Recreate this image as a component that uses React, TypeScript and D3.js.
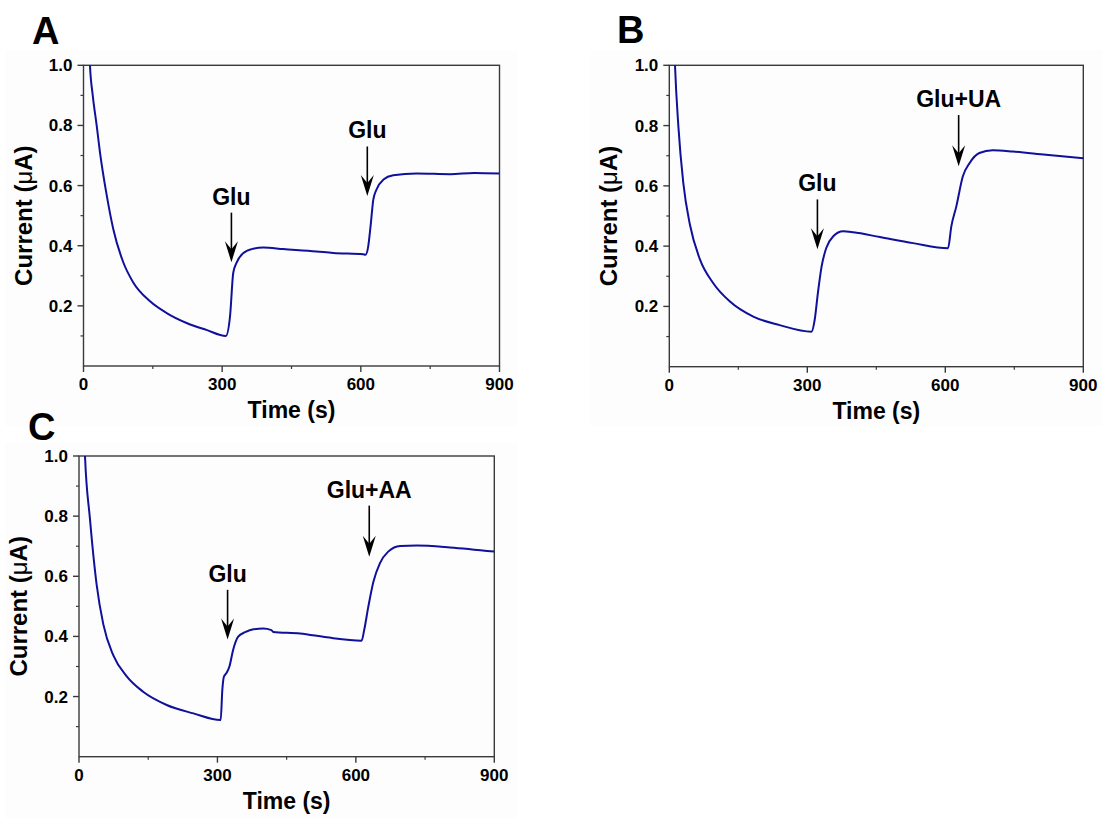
import React from "react";
import * as d3 from "d3";

// ---- Data ----
const timeA = [5, 14, 20, 28.5, 35.7, 50, 64.5, 86, 107.6, 144, 180, 223, 266, 308, 317, 324, 331, 346, 367, 389, 432, 504, 540, 605, 610, 616, 621, 627, 634, 649, 670, 721, 794, 845, 900];
const currentA = [1.5, 1.0, 0.9, 0.8, 0.71, 0.57, 0.455, 0.345, 0.278, 0.215, 0.176, 0.143, 0.12, 0.1, 0.165, 0.31, 0.343, 0.376, 0.39, 0.394, 0.389, 0.381, 0.376, 0.372, 0.37, 0.398, 0.464, 0.553, 0.587, 0.62, 0.634, 0.64, 0.638, 0.642, 0.64];

const timeB = [5, 12.4, 19.6, 30.4, 45, 66.6, 95.6, 131.9, 182.6, 240, 309, 316, 323, 331, 341, 356, 378, 400, 458, 530, 606, 613, 624, 638, 653, 674, 703, 747, 819, 900];
const currentB = [1.4, 1.0, 0.8, 0.61, 0.47, 0.356, 0.277, 0.216, 0.166, 0.138, 0.116, 0.155, 0.244, 0.332, 0.393, 0.432, 0.449, 0.446, 0.43, 0.41, 0.393, 0.465, 0.532, 0.631, 0.676, 0.709, 0.718, 0.714, 0.703, 0.692];

const timeC = [5, 13, 23.8, 38, 52.7, 74.4, 103, 139, 190, 248, 307, 310.6, 314, 320, 326, 334, 345, 360, 378, 399, 417, 421, 479, 537, 612.5, 618, 627, 638, 652, 670, 696, 732, 804, 900];
const currentC = [1.4, 1.0, 0.79, 0.575, 0.44, 0.337, 0.268, 0.216, 0.172, 0.144, 0.122, 0.222, 0.266, 0.279, 0.3, 0.355, 0.399, 0.414, 0.424, 0.426, 0.421, 0.415, 0.41, 0.397, 0.386, 0.421, 0.499, 0.582, 0.643, 0.682, 0.701, 0.702, 0.696, 0.682];

const xTicks = [0, 300, 600, 900];
const xMinorTicks = [150, 450, 750];
const yTicks = [0.2, 0.4, 0.6, 0.8, 1.0];
const yMinorTicks = [0.1, 0.3, 0.5, 0.7, 0.9];

const labelsA = ["Glu", "Glu"];
const arrowTimesA = [320, 614];
const arrowTopsA = [0.51, 0.73];
const arrowTipsA = [0.345, 0.565];

const labelsB = ["Glu", "Glu+UA"];
const arrowTimesB = [322, 629];
const arrowTopsB = [0.555, 0.835];
const arrowTipsB = [0.39, 0.665];

const labelsC = ["Glu", "Glu+AA"];
const arrowTimesC = [322, 629];
const arrowTopsC = [0.555, 0.835];
const arrowTipsC = [0.39, 0.665];

const FONT = "'Liberation Sans', Arial, Helvetica, sans-serif";
const LINE_COLOR = "#10109a";
const AXIS_COLOR = "#3a3a3a";

type PanelProps = {
  id: string;
  letter: string;
  letterX: number;
  letterY: number;
  left: number;
  top: number;
  width: number;
  height: number;
  times: number[];
  currents: number[];
  labels: string[];
  arrowTimes: number[];
  arrowTops: number[];
  arrowTips: number[];
};

function Panel(p: PanelProps) {
  const x = d3.scaleLinear().domain([0, 900]).range([p.left, p.left + p.width]);
  const y = d3.scaleLinear().domain([0, 1]).range([p.top + p.height, p.top]);
  const pts = p.times.map((t, i) => [t, p.currents[i]] as [number, number]);
  const line = d3
    .line<[number, number]>()
    .x((d) => x(d[0]))
    .y((d) => y(d[1]))
    .curve(d3.curveMonotoneX);
  const bottom = p.top + p.height;
  const right = p.left + p.width;
  const clipId = "clip-" + p.id;
  return (
    <g>
      <defs>
        <clipPath id={clipId}>
          <rect x={p.left} y={p.top} width={p.width} height={p.height} />
        </clipPath>
      </defs>
      <text x={p.letterX} y={p.letterY} fontSize={38} fontWeight="bold" fontFamily={FONT} fill="#000">
        {p.letter}
      </text>
      {/* frame */}
      <rect x={p.left} y={p.top} width={p.width} height={p.height} fill="none" stroke={AXIS_COLOR} strokeWidth={1.4} />
      {/* x ticks */}
      {xTicks.map((t) => (
        <g key={"xt" + t}>
          <line x1={x(t)} x2={x(t)} y1={bottom} y2={bottom + 6} stroke={AXIS_COLOR} strokeWidth={1.4} />
          <text x={x(t)} y={bottom + 24} textAnchor="middle" fontSize={17} fontWeight="bold" fontFamily={FONT} fill="#000">
            {t}
          </text>
        </g>
      ))}
      {xMinorTicks.map((t) => (
        <line key={"xm" + t} x1={x(t)} x2={x(t)} y1={bottom} y2={bottom + 3} stroke={AXIS_COLOR} strokeWidth={1.2} />
      ))}
      {/* y ticks */}
      {yTicks.map((v) => (
        <g key={"yt" + v}>
          <line x1={p.left - 6} x2={p.left} y1={y(v)} y2={y(v)} stroke={AXIS_COLOR} strokeWidth={1.4} />
          <text x={p.left - 11} y={y(v) + 6} textAnchor="end" fontSize={17} fontWeight="bold" fontFamily={FONT} fill="#000">
            {v.toFixed(1)}
          </text>
        </g>
      ))}
      {yMinorTicks.map((v) => (
        <line key={"ym" + v} x1={p.left - 3} x2={p.left} y1={y(v)} y2={y(v)} stroke={AXIS_COLOR} strokeWidth={1.2} />
      ))}
      {/* axis titles */}
      <text x={(p.left + right) / 2} y={bottom + 52} textAnchor="middle" fontSize={23} fontWeight="bold" fontFamily={FONT} fill="#000">
        Time (s)
      </text>
      <text
        transform={`translate(${p.left - 52},${p.top + p.height / 2}) rotate(-90)`}
        textAnchor="middle"
        fontSize={24}
        fontWeight="bold"
        fontFamily={FONT}
        fill="#000"
      >
        Current (<tspan fontWeight="normal">μ</tspan>A)
      </text>
      {/* curve */}
      <path d={line(pts) || ""} fill="none" stroke={LINE_COLOR} strokeWidth={2} clipPath={`url(#${clipId})`} />
      {/* annotations */}
      {p.labels.map((lab, i) => {
        const ax = x(p.arrowTimes[i]);
        const y0 = y(p.arrowTops[i]);
        const y1 = y(p.arrowTips[i]);
        return (
          <g key={"ann" + i}>
            <text x={ax} y={y0 - 8} textAnchor="middle" fontSize={23} fontWeight="bold" fontFamily={FONT} fill="#000">
              {lab}
            </text>
            <line x1={ax} x2={ax} y1={y0} y2={y1 - 10} stroke="#000" strokeWidth={1.6} />
            <path d={`M${ax - 6.5},${y1 - 21} L${ax},${y1 - 13} L${ax + 6.5},${y1 - 21} L${ax},${y1} Z`} fill="#000" />
          </g>
        );
      })}
    </g>
  );
}

export default function App() {
  return (
    <svg
      width={1104}
      height={818}
      style={{ position: "absolute", left: 0, top: 0, background: "#fff" }}
    >
      <rect x={0} y={0} width={1104} height={818} fill="#fff" />
      <rect x={5} y={50} width={512} height={376} fill="#fdfdfd" />
      <rect x={590} y={50} width={512} height={376} fill="#fdfdfd" />
      <rect x={5} y={443} width={512} height={375} fill="#fdfdfd" />
      <Panel
        id="A"
        letter="A"
        letterX={32}
        letterY={44}
        left={83.5}
        top={65.3}
        width={416}
        height={300.7}
        times={timeA}
        currents={currentA}
        labels={labelsA}
        arrowTimes={arrowTimesA}
        arrowTops={arrowTopsA}
        arrowTips={arrowTipsA}
      />
      <Panel
        id="B"
        letter="B"
        letterX={617}
        letterY={43}
        left={669.3}
        top={65.3}
        width={414}
        height={301.4}
        times={timeB}
        currents={currentB}
        labels={labelsB}
        arrowTimes={arrowTimesB}
        arrowTops={arrowTopsB}
        arrowTips={arrowTipsB}
      />
      <Panel
        id="C"
        letter="C"
        letterX={28}
        letterY={440}
        left={79}
        top={456}
        width={415.3}
        height={300.7}
        times={timeC}
        currents={currentC}
        labels={labelsC}
        arrowTimes={arrowTimesC}
        arrowTops={arrowTopsC}
        arrowTips={arrowTipsC}
      />
    </svg>
  );
}
